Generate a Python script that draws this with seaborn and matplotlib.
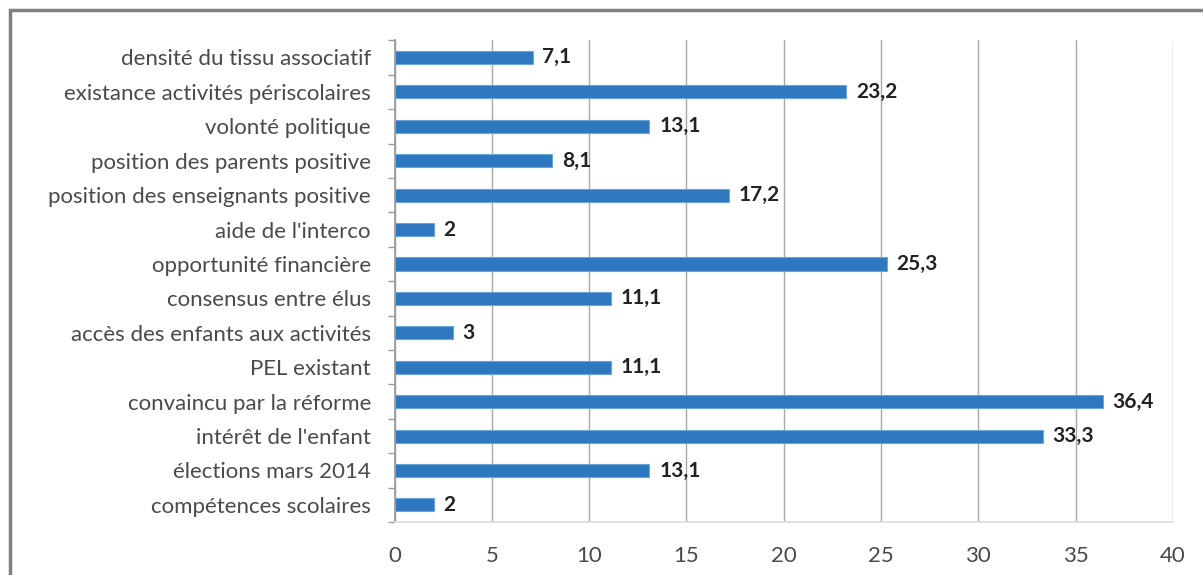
import numpy as np
import pandas as pd
import matplotlib
matplotlib.use("Agg")
import matplotlib.pyplot as plt
from matplotlib.patches import Rectangle
import seaborn as sns

categories = [
    "densité du tissu associatif",
    "existance activités périscolaires",
    "volonté politique",
    "position des parents positive",
    "position des enseignants positive",
    "aide de l'interco",
    "opportunité financière",
    "consensus entre élus",
    "accès des enfants aux activités",
    "PEL existant",
    "convaincu par la réforme",
    "intérêt de l'enfant",
    "élections mars 2014",
    "compétences scolaires",
]
values = [7.1, 23.2, 13.1, 8.1, 17.2, 2, 25.3, 11.1, 3, 11.1, 36.4, 33.3, 13.1, 2]
x_ticks = [0, 5, 10, 15, 20, 25, 30, 35, 40]

df = pd.DataFrame({"cat": categories, "val": values})

sns.set_theme(style="white")
plt.rcParams["font.family"] = ["Lato", "DejaVu Sans"]

fig = plt.figure(figsize=(12.03, 5.75), dpi=100)
ax = fig.add_axes([0.328, 0.092, 0.647, 0.838])

sns.barplot(data=df, y="cat", x="val", orient="h", color="#2E78BF",
            saturation=1, width=0.38, edgecolor="#6AA6DA", linewidth=0.8, ax=ax)

ax.set_xlim(0, 40)
ax.set_xticks(x_ticks)
ax.set_ylim(len(categories) - 0.5, -0.5)
ax.set_xlabel("")
ax.set_ylabel("")
ax.xaxis.grid(True, color="#a8a8a8", linewidth=1)
ax.set_axisbelow(True)

for s in ["top", "right"]:
    ax.spines[s].set_visible(False)
ax.spines["left"].set_color("#9a9a9a")
ax.spines["bottom"].set_color("#dddddd")

ax.tick_params(axis="y", which="major", length=0, pad=17, labelsize=16, labelcolor="#4a4a4a")
ax.tick_params(axis="x", which="major", length=0, pad=17, labelsize=16, labelcolor="#4a4a4a")
ax.set_yticks(np.arange(-0.5, len(categories), 1), minor=True)
ax.tick_params(axis="y", which="minor", length=5, color="#9a9a9a", left=True)

for i, v in enumerate(values):
    txt = f"{v:g}".replace(".", ",")
    ax.text(v + 0.5, i, txt, va="center", ha="left", fontsize=15,
            fontweight="bold", color="#222222")

# outer chart frame
fig.patches.append(Rectangle((10 / 1203, -0.05), 1.1, 1 - 10 / 575 + 0.05,
                             transform=fig.transFigure, fill=False,
                             edgecolor="#808080", linewidth=2.5))

fig.savefig("out.png", dpi=100, facecolor="white")
